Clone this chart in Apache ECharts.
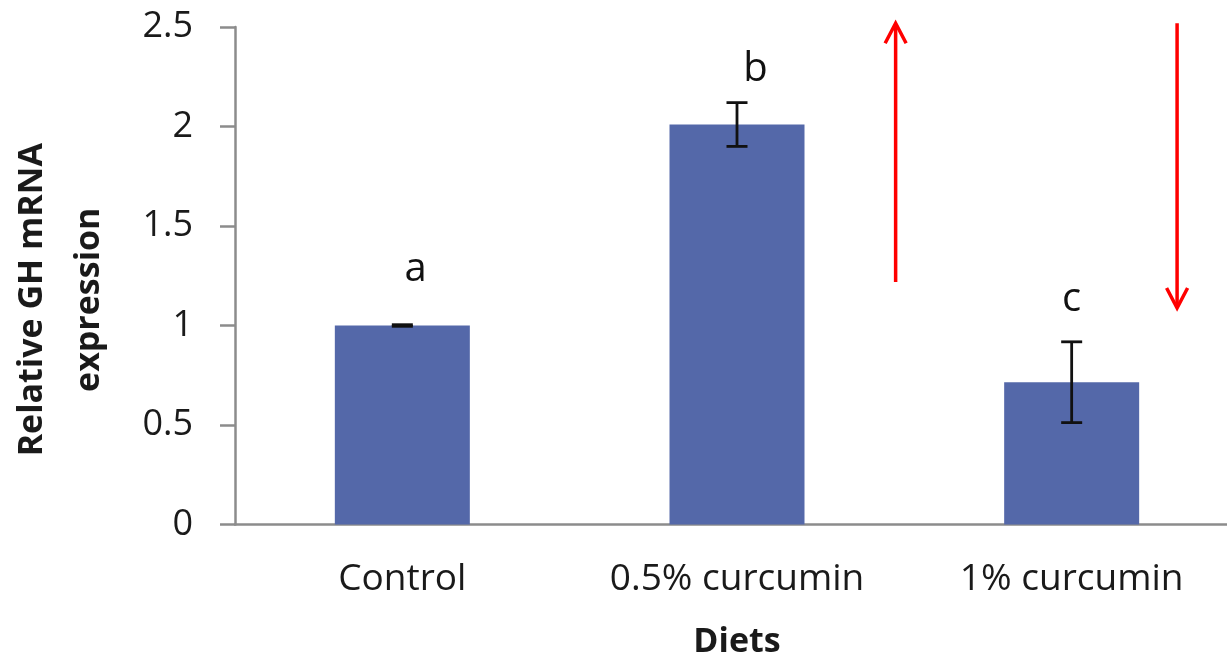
<!DOCTYPE html>
<html>
<head>
<meta charset="utf-8">
<script src="https://cdn.jsdelivr.net/npm/echarts@6/dist/echarts.min.js"></script>
<style>html,body{margin:0;padding:0;background:#fff;}#c{width:1227px;height:657px;}</style>
</head>
<body>
<div id="c"></div>
<script>
// ---- data ----
var categories = ['Control', '0.5% curcumin', '1% curcumin'];
var meanValues = [1.0, 2.01, 0.715];
var errorValues = [0.004, 0.11, 0.203];
var letters = ['a', 'b', 'c'];
var letterX = [0.04, 1.055, 2.0];      // annotation positions in category units
var letterY = [1.28, 2.285, 1.13];     // annotation positions in value units
var yTicks = [0, 0.5, 1, 1.5, 2, 2.5];
// arrows: [x, fromY, toY] (tip at toY)
var arrows = [[1.474, 1.219, 2.519], [2.315, 2.519, 1.088]];

var font = 'Open Sans';
var chart = echarts.init(document.getElementById('c'), null, {renderer: 'canvas'});

var errData = categories.map(function (c, i) {
  return [i, meanValues[i] - errorValues[i], meanValues[i] + errorValues[i]];
});
var letterData = letters.map(function (l, i) { return [letterX[i], letterY[i], l]; });

var option = {
  animation: false,
  backgroundColor: '#ffffff',
  grid: {left: 235, top: 27, width: 1004, height: 497.5, containLabel: false, outerBoundsMode: 'none'},
  xAxis: [{
    type: 'category',
    data: categories,
    name: 'Diets',
    nameLocation: 'middle',
    nameGap: 101,
    nameTextStyle: {fontFamily: font, fontWeight: 'bold', fontSize: 34, color: '#1a1a1a'},
    axisLine: {show: true, lineStyle: {color: '#8c8c8c', width: 2.5}},
    axisTick: {show: false},
    axisLabel: {fontFamily: font, fontSize: 37, color: '#1a1a1a', margin: 36, interval: 0, hideOverlap: false},
    splitLine: {show: false}
  }, {
    type: 'value', min: -0.5, max: 2.5, show: false
  }],
  yAxis: {
    type: 'value',
    min: yTicks[0],
    max: yTicks[yTicks.length - 1],
    interval: yTicks[1] - yTicks[0],
    name: 'Relative GH mRNA\nexpression',
    nameLocation: 'middle',
    nameGap: 117,
    nameTextStyle: {fontFamily: font, fontWeight: 'bold', fontSize: 34, color: '#1a1a1a', lineHeight: 57, padding: [0, 48, 0, 0]},
    axisLine: {show: true, onZero: false, lineStyle: {color: '#8c8c8c', width: 2.5}},
    axisTick: {show: true, length: 15, inside: false, lineStyle: {color: '#8c8c8c', width: 2.5}},
    axisLabel: {fontFamily: font, fontSize: 36, color: '#1a1a1a', margin: 42},
    splitLine: {show: false}
  },
  series: [{
    type: 'bar',
    data: meanValues,
    barWidth: 135,
    itemStyle: {color: '#5468A9'},
    z: 2
  }, {
    type: 'custom',
    data: errData,
    z: 5,
    renderItem: function (params, api) {
      var x = api.value(0);
      var lo = api.coord([x, api.value(1)]);
      var hi = api.coord([x, api.value(2)]);
      var hw = 10.5;
      var st = {stroke: '#111111', lineWidth: 2.8};
      return {type: 'group', children: [
        {type: 'line', shape: {x1: lo[0], y1: lo[1], x2: hi[0], y2: hi[1]}, style: st},
        {type: 'line', shape: {x1: lo[0] - hw, y1: lo[1], x2: lo[0] + hw, y2: lo[1]}, style: st},
        {type: 'line', shape: {x1: hi[0] - hw, y1: hi[1], x2: hi[0] + hw, y2: hi[1]}, style: st}
      ]};
    }
  }, {
    type: 'custom',
    xAxisIndex: 1,
    data: letterData,
    z: 6,
    renderItem: function (params, api) {
      var p = api.coord([api.value(0), api.value(1)]);
      return {type: 'text', style: {
        text: letterData[params.dataIndex][2], x: p[0], y: p[1],
        align: 'center', verticalAlign: 'middle',
        font: '40px "' + font + '"', fill: '#111111'
      }};
    }
  }, {
    type: 'custom',
    xAxisIndex: 1,
    data: arrows,
    z: 7,
    clip: false,
    renderItem: function (params, api) {
      var a = api.coord([api.value(0), api.value(1)]);
      var b = api.coord([api.value(0), api.value(2)]);
      var dir = b[1] < a[1] ? 1 : -1; // 1: pointing up
      var hl = 20, hw = 10.5;
      var st = {stroke: '#ff0000', lineWidth: 3.5, fill: null};
      return {type: 'group', children: [
        {type: 'line', shape: {x1: a[0], y1: a[1], x2: b[0], y2: b[1] + dir * 1}, style: st},
        {type: 'polyline', shape: {points: [[b[0] - hw, b[1] + dir * hl], [b[0], b[1]], [b[0] + hw, b[1] + dir * hl]]}, style: st}
      ]};
    }
  }]
};
chart.setOption(option);
</script>
</body>
</html>
